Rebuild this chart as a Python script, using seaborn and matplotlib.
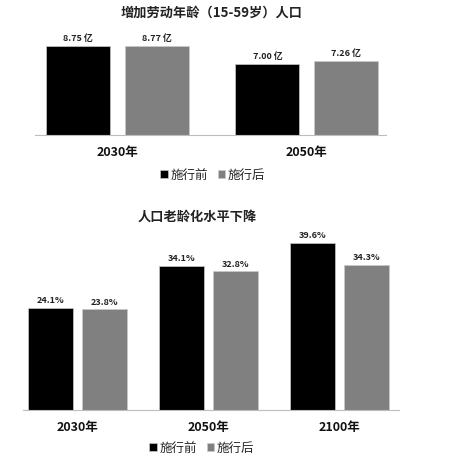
import matplotlib
matplotlib.use("Agg")
import matplotlib.pyplot as plt
import seaborn as sns
import pandas as pd

sns.set_theme(style="white")
plt.rcParams['font.family'] = ['Noto Sans CJK SC', 'DejaVu Sans']

# Working-age population (15-59), in 亿
labor_years = ["2030年", "2050年"]
labor_before = [8.75, 7.00]
labor_after = [8.77, 7.26]

# Ageing level, percent
aging_years = ["2030年", "2050年", "2100年"]
aging_before = [24.1, 34.1, 39.6]
aging_after = [23.8, 32.8, 34.3]

series_names = ["施行前", "施行后"]
palette = {"施行前": "#000000", "施行后": "#808080"}

W, H = 456, 468
fig = plt.figure(figsize=(W / 100, H / 100), dpi=100)
fig.patch.set_facecolor("white")


def px_axes(x0, x1, ytop, ybot):
    return fig.add_axes([x0 / W, 1 - ybot / H, (x1 - x0) / W, (ybot - ytop) / H])


def draw(ax, years, before, after, fmt, ylim, xlim, width, gap):
    df = pd.DataFrame({
        "year": years * 2,
        "series": [series_names[0]] * len(years) + [series_names[1]] * len(years),
        "value": list(before) + list(after),
    })
    sns.barplot(data=df, x="year", y="value", hue="series", palette=palette,
                width=width, gap=gap, ax=ax, edgecolor="#c8c8c8", linewidth=0.5,
                saturation=1, errorbar=None)
    for cont in ax.containers:
        ax.bar_label(cont, labels=[fmt(v) for v in cont.datavalues], padding=2,
                     fontsize=6.5, fontweight="bold", color="#222222")
    ax.set_ylim(0, ylim)
    ax.set_xlim(*xlim)
    ax.set_xlabel("")
    ax.set_ylabel("")
    ax.set_yticks([])
    for s in ["top", "right", "left"]:
        ax.spines[s].set_visible(False)
    ax.spines["bottom"].set_color("#bdbdbd")
    ax.spines["bottom"].set_linewidth(0.8)
    ax.tick_params(axis="x", which="major", length=0, pad=8, labelsize=9)
    for t in ax.get_xticklabels():
        t.set_fontweight("bold")
        t.set_color("#111111")
    ax.set_xticks([i + 0.5 for i in range(len(years) - 1)], minor=True)
    ax.tick_params(axis="x", which="minor", length=3, color="#bdbdbd", width=0.8,
                   direction="out")
    handles, labels = ax.get_legend_handles_labels()
    ax.get_legend().remove()
    return handles, labels


# Upper panel
ax1 = px_axes(35, 386, 25, 135)
h, l = draw(ax1, labor_years, labor_before, labor_after,
            lambda v: f"{v:.2f} 亿", 110 / 10.2, (-0.437, 1.42), 0.83, 0.185)
fig.text(212 / W, 1 - 13 / H, "增加劳动年龄（15-59岁）人口", ha="center", va="center",
         fontsize=9.5, fontweight="bold", color="#222222")
fig.legend(h, l, loc="center", bbox_to_anchor=(213 / W, 1 - 175 / H), ncol=2,
           frameon=False, fontsize=9, handlelength=0.6, handleheight=0.6,
           handletextpad=0.2, columnspacing=0.8)

# Lower panel
ax2 = px_axes(23, 399, 230, 410)
h, l = draw(ax2, aging_years, aging_before, aging_after,
            lambda v: f"{v:.1f}%", 180 / 4.225, (-0.416, 2.454), 0.832, 0.174)
fig.text(197 / W, 1 - 217 / H, "人口老龄化水平下降", ha="center", va="center",
         fontsize=9.5, fontweight="bold", color="#222222")
fig.legend(h, l, loc="center", bbox_to_anchor=(202 / W, 1 - 448 / H), ncol=2,
           frameon=False, fontsize=9, handlelength=0.6, handleheight=0.6,
           handletextpad=0.2, columnspacing=0.8)

fig.savefig("out.png", dpi=100, facecolor="white")
